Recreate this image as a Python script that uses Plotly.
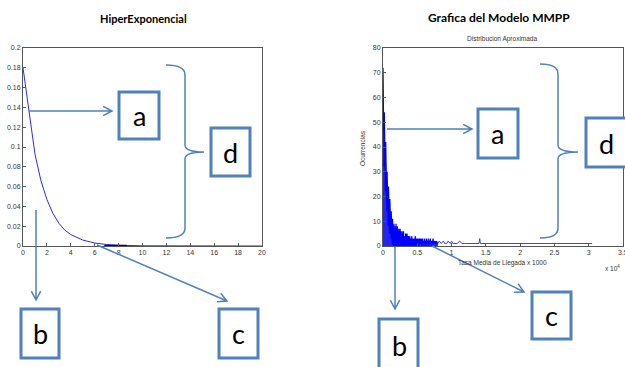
import math
import numpy as np
import plotly.graph_objects as go

# ---------------- data ----------------
# Left panel: HiperExponencial density
hx_x = [0, 0.25, 0.5, 0.75, 1, 1.5, 2, 2.5, 3, 3.5, 4, 5, 6, 7, 8, 10, 12, 15, 20]
hx_y = [0.18, 0.158, 0.136, 0.112, 0.093, 0.066, 0.047, 0.033, 0.023, 0.016,
        0.0115, 0.006, 0.003, 0.0015, 0.0008, 0.0002, 0.00005, 0, 0]
hx_dark_x = [6.8, 8.7]
hx_dark_y = [0.0004, 0.0004]

# Right panel: MMPP histogram counts (x in units of 1e4)
mmpp_step = 0.005
mmpp_dense = [
    72, 40, 70, 32, 54, 28, 50, 22, 42, 18,
    35, 14, 30, 10, 27, 8, 24, 6, 22, 5,
    19, 4, 17, 3, 14, 2, 13, 1, 11, 0,
    10, 1, 9, 0, 9, 1, 8, 0, 9, 1,
    7, 0, 8, 1, 6, 0, 7, 1, 6, 0,
    7, 1, 6, 0, 5, 1, 6, 0, 5, 1,
    6, 0, 5, 1, 4, 0, 5, 1, 4, 0,
    5, 1, 4, 0, 4, 1, 3, 0, 4, 1,
    4, 0, 3, 1, 4, 0, 3, 1, 3, 0,
    3, 1, 3, 0, 4, 1, 3, 0, 3, 1,
    3, 0, 3, 1, 2, 0, 3, 1, 2, 1,
    3, 1, 2, 0, 3, 1, 2, 1, 2, 0,
    3, 1, 3, 1, 2, 0, 3, 1, 2, 1,
    2, 1, 3, 0, 2, 1, 2, 1, 3, 1,
    2, 1, 2, 0, 2, 1, 3, 1, 2, 1,
    2, 1, 2, 1, 1, 1, 2, 1, 1, 1,
    1,
]
mmpp_tail_x = [0.80, 0.82, 0.85, 0.88, 0.90, 0.93, 0.95, 0.98, 1.00, 1.02, 1.05, 1.08, 1.12,
               1.15, 1.20, 1.25, 1.30, 1.35, 1.40, 1.41, 1.42, 1.50, 1.70, 1.90, 2.10,
               2.40, 2.70, 2.90, 3.05]
mmpp_tail_y = [1, 2, 1, 2, 1, 1, 2, 1, 2, 1, 1, 1, 2,
               1, 1, 1, 1, 1, 1, 3, 1, 1, 1, 1, 1,
               1, 1, 1, 1]

left_xticks = list(range(0, 21, 2))
left_yticks = [0, 0.02, 0.04, 0.06, 0.08, 0.1, 0.12, 0.14, 0.16, 0.18, 0.2]
right_xticks = [0, 0.5, 1, 1.5, 2, 2.5, 3, 3.5]
right_xticktext = ["0", "0.5", "1", "1.5", "2", "2.5", "3", "3.5"]
right_yticks = [0, 10, 20, 30, 40, 50, 60, 70, 80]

# ---------------- layout helpers ----------------
W, H = 625, 367


def px(x):
    return x / W


def py(y):
    return 1 - y / H


BLUE = "#4f81bd"
AX = "#555555"
TICKFONT = dict(family="Liberation Sans, Arial", size=7, color="#333333")

mmpp_x = [round(i * mmpp_step, 4) for i in range(len(mmpp_dense))]

fig = go.Figure()
fig.add_trace(go.Scatter(x=hx_x, y=hx_y, mode="lines", line=dict(color="#2a2aff", width=1),
                         xaxis="x", yaxis="y", showlegend=False, hoverinfo="skip"))
fig.add_trace(go.Scatter(x=hx_dark_x, y=hx_dark_y, mode="lines", line=dict(color="#000080", width=1.5),
                         xaxis="x", yaxis="y", showlegend=False, hoverinfo="skip"))
fig.add_trace(go.Scatter(x=mmpp_tail_x, y=mmpp_tail_y, mode="lines", line=dict(color="#3344ff", width=1),
                         xaxis="x2", yaxis="y2", showlegend=False, hoverinfo="skip"))
fig.add_trace(go.Scatter(x=mmpp_x, y=mmpp_dense, mode="lines", line=dict(color="#0000ff", width=1.2),
                         fill="tozeroy", fillcolor="rgba(0,0,240,0.85)",
                         xaxis="x2", yaxis="y2", showlegend=False, hoverinfo="skip"))

axis_common = dict(showline=True, mirror=True, linecolor=AX, linewidth=1, ticks="inside",
                   ticklen=3, tickcolor=AX, showgrid=False, zeroline=False, tickfont=TICKFONT,
                   automargin=False)

fig.update_layout(
    width=W, height=H, autosize=False,
    margin=dict(l=0, r=0, t=0, b=0, pad=0),
    paper_bgcolor="white", plot_bgcolor="white",
    xaxis=dict(domain=[px(23), px(262)], range=[0, 20], tickvals=left_xticks, anchor="y", **axis_common),
    yaxis=dict(domain=[py(246), py(48)], range=[0, 0.2], tickvals=left_yticks, anchor="x", **axis_common),
    xaxis2=dict(domain=[px(383), px(623)], range=[0, 3.5], tickvals=right_xticks,
                ticktext=right_xticktext, anchor="y2", **axis_common),
    yaxis2=dict(domain=[py(246), py(48)], range=[0, 80], tickvals=right_yticks, anchor="x2", **axis_common),
)

shapes = []
annotations = []


def text(x, y, s, size, bold=False, family="Lato", color="black", angle=0):
    annotations.append(dict(
        x=px(x), y=py(y), xref="paper", yref="paper", text=f"<b>{s}</b>" if bold else s,
        showarrow=False, xanchor="center", yanchor="middle", textangle=angle,
        font=dict(family=family, size=size, color=color)))


def arrow(x0, y0, x1, y1, L=10, ang=28):
    a = math.atan2(y1 - y0, x1 - x0)
    pts = []
    for s in (1, -1):
        t = a + math.pi - s * math.radians(ang)
        pts.append((x1 + L * math.cos(t), y1 + L * math.sin(t)))
    path = (f"M{px(x0)},{py(y0)} L{px(x1)},{py(y1)} "
            f"M{px(pts[0][0])},{py(pts[0][1])} L{px(x1)},{py(y1)} L{px(pts[1][0])},{py(pts[1][1])}")
    shapes.append(dict(type="path", path=path, xref="paper", yref="paper",
                       line=dict(color=BLUE, width=1.5), layer="above"))


def brace(xl, xm, xt, ytop, ymid, ybot):
    pts = [("M", xl, ytop), ("Q", xm, ytop), ("", xm, ytop + 10), ("L", xm, ymid - 7),
           ("Q", xm, ymid), ("", xt, ymid), ("Q", xm, ymid), ("", xm, ymid + 7),
           ("L", xm, ybot - 10), ("Q", xm, ybot), ("", xl, ybot)]
    path = " ".join(f"{c}{px(x)},{py(y)}" for c, x, y in pts)
    shapes.append(dict(type="path", path=path, xref="paper", yref="paper",
                       line=dict(color=BLUE, width=1.5), layer="above"))


def box(x0, y0, x1, y1, letter, lx=None, ly=None):
    shapes.append(dict(type="rect", x0=px(x0), x1=px(x1), y0=py(y1), y1=py(y0),
                       xref="paper", yref="paper", fillcolor="white",
                       line=dict(color=BLUE, width=3), layer="above"))
    text(lx if lx is not None else (x0 + x1) / 2, ly if ly is not None else (y0 + y1) / 2,
         letter, 27, family="Lato")


# titles and labels
text(143, 18, "HiperExponencial", 11, bold=True)
text(499, 17, "Grafica del Modelo MMPP", 12, bold=True)
text(502, 39, "Distribucion Aproximada", 6.5, family="Liberation Sans", color="#333333")
text(363, 148, "Ocurrencias", 6.5, family="Liberation Sans", color="#333333", angle=-90)
text(502, 263, "Tasa Media de Llegada x 1000", 6.5, family="Liberation Sans", color="#333333")
text(612, 268, "x 10<sup>4</sup>", 6.5, family="Liberation Sans", color="#333333")
# last right tick label, cut by the window edge as in the reference
annotations.append(dict(x=right_xticks[-1], xref="x2", y=py(252), yref="paper",
                        text=right_xticktext[-1], showarrow=False, xanchor="center",
                        yanchor="middle", font=TICKFONT))

# left panel annotations
arrow(29, 111, 112, 111)
arrow(36, 210, 36, 300)
arrow(97, 245, 227, 301)
brace(166, 185, 204, 65, 152, 238)
box(119, 92, 159, 139, "a")
box(211, 128, 250, 176, "d")
box(21, 309, 59, 358, "b")
box(219, 309, 258, 358, "c")

# right panel annotations
arrow(387, 129, 472, 129)
arrow(395, 247, 395, 309)
arrow(432, 246, 524, 292)
brace(540, 558, 578, 64, 152, 238)
box(478, 109, 518, 158, "a")
box(586, 118, 632, 167, "d", lx=606, ly=143)
box(379, 319, 418, 375, "b", lx=399, ly=345)
box(532, 292, 571, 339, "c")

fig.update_layout(shapes=shapes, annotations=annotations)
fig.write_html(
    "out.html",
    config={"displayModeBar": False},
    post_script="document.body.style.margin='0';document.body.style.overflow='hidden';"
                "document.documentElement.style.overflow='hidden';",
)
